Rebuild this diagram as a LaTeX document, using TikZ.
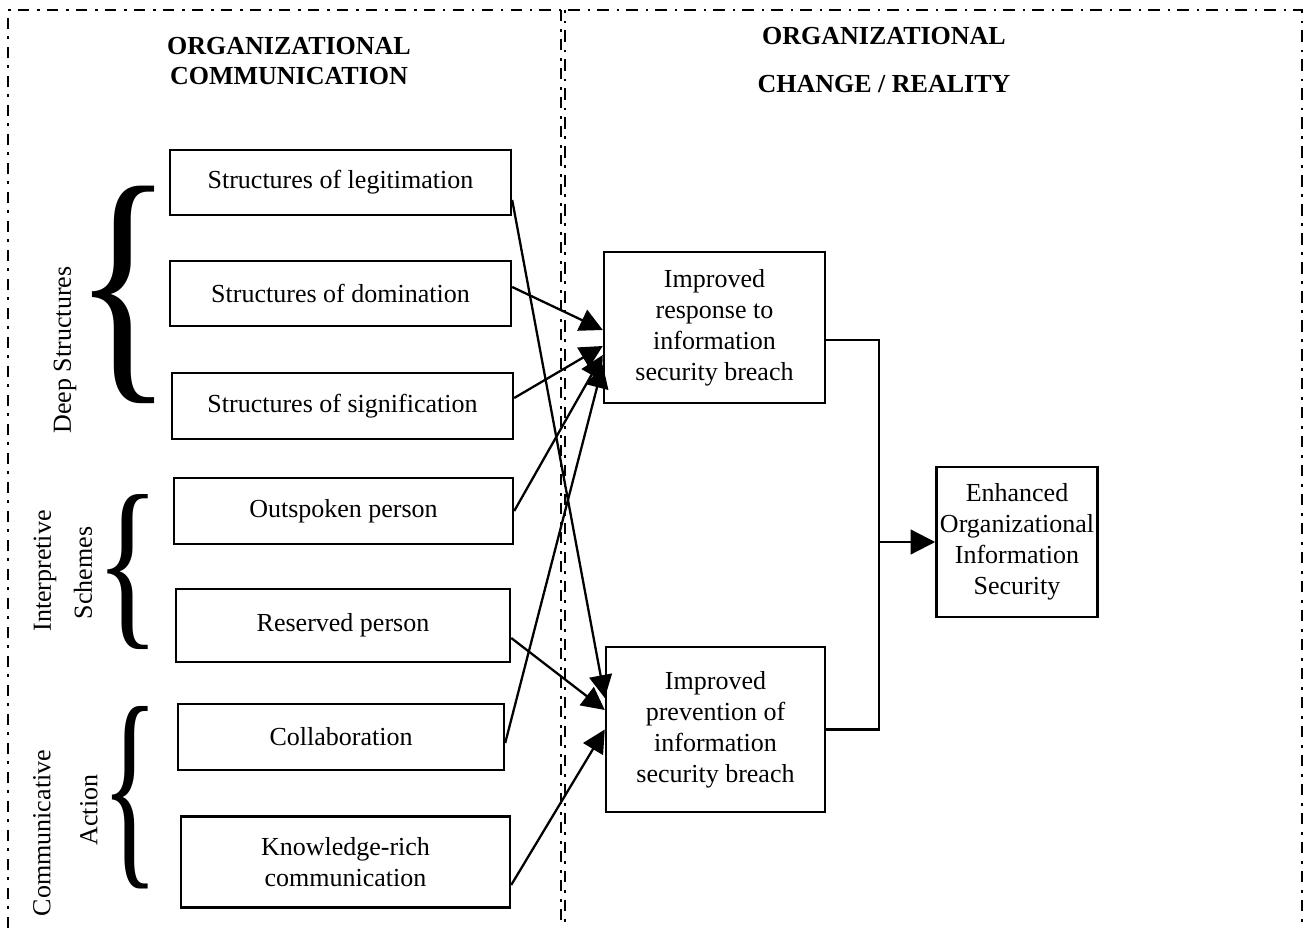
\documentclass[tikz,border=0pt]{standalone}
\usepackage{fontspec}
\setmainfont{Liberation Serif}
\usepackage{graphicx}
\usetikzlibrary{arrows.meta}

\begin{document}
\begin{tikzpicture}[
  x = 0.02cm,
  y = -0.02cm,
  every node/.style = {
    font = \fontsize{14.8}{17.6}\selectfont
  },
  box/.style = {
    draw,
    line width = 1.4pt,
    align = center,
    inner sep = 2pt
  },
  frame/.style = {
    line width = 1.4pt,
    dash pattern = on 6.5pt off 4.5pt on 1.5pt off 4pt
  },
  arr/.style = {
    line width = 1.3pt,
    -{Triangle[length = 13pt, width = 13pt]}
  },
  brace/.style = {
    inner sep = 0pt
  }
]
  \useasboundingbox (0, 0) rectangle (1304, 928);

  \draw[frame] (8, 928) -- (8, 10) -- (1302, 10) -- (1302, 928);
  \draw[frame] (561, 10) -- (561, 928);
  \draw[frame, dash phase = 5pt] (565, 10) -- (565, 928);

  \node[align = center, font = \fontsize{14.8}{17.6}\selectfont\bfseries] (hcomm) at (289, 61) {ORGANIZATIONAL\\COMMUNICATION};
  \node[align = center, font = \fontsize{14.8}{17.6}\selectfont\bfseries] (hchange) at (884, 60) {ORGANIZATIONAL\\[9.5pt]CHANGE / REALITY};

  \node[box, minimum width = 6.82cm, minimum height = 1.3cm] (legit) at (340.5, 182.5) {Structures of legitimation};
  \node[box, minimum width = 6.82cm, minimum height = 1.3cm] (domin) at (340.5, 293.5) {Structures of domination};
  \node[box, minimum width = 6.82cm, minimum height = 1.32cm] (signif) at (342.5, 406) {Structures of signification};
  \node[box, minimum width = 6.78cm, minimum height = 1.32cm] (outsp) at (343.5, 511) {Outspoken person};
  \node[box, minimum width = 6.68cm, minimum height = 1.46cm] (reserv) at (343, 625.5) {Reserved person};
  \node[box, minimum width = 6.52cm, minimum height = 1.32cm] (collab) at (341, 737) {Collaboration};
  \node[box, minimum width = 6.58cm, minimum height = 1.82cm] (know) at (345.5, 862) {Knowledge-rich\\communication};

  \node[brace] (bdeep) at (124, 294.5) {\resizebox*{2cm}{4.35cm}{\{}};
  \node[brace] (binterp) at (128, 572) {\resizebox*{1.3cm}{3.1cm}{\{}};
  \node[brace] (bcomm) at (130.5, 797.5) {\resizebox*{1.15cm}{3.65cm}{\{}};

  \node[rotate = 90] (ldeep) at (65, 350) {Deep Structures};
  \node[rotate = 90] (linterp) at (45, 571) {Interpretive};
  \node[rotate = 90] (lschemes) at (83, 573) {Schemes};
  \node[rotate = 90] (lcomm) at (42, 833) {Communicative};
  \node[rotate = 90] (laction) at (89, 810) {Action};

  \node[box, minimum width = 4.42cm, minimum height = 3.02cm] (resp) at (714.5, 327.5) {Improved\\response to\\information\\security breach};
  \node[box, minimum width = 4.38cm, minimum height = 3.3cm] (prev) at (715.5, 729.5) {Improved\\prevention of\\information\\security breach};
  \node[box, minimum width = 3.2cm, minimum height = 3cm] (enh) at (1017, 542) {Enhanced\\Organizational\\Information\\Security};

  \draw[arr] ([yshift = 0.13cm] domin.east) -- ([yshift = -0.05cm] resp.west);
  \draw[arr] ([yshift = 0.16cm] signif.east) -- ([yshift = -0.37cm] resp.west);
  \draw[arr] (outsp.east) -- ([yshift = -0.55cm] resp.west);
  \draw[arr] ([yshift = -0.12cm] collab.east) -- ([yshift = -0.75cm] resp.west);

  \draw[arr] ([yshift = -0.35cm] legit.east) -- ([yshift = 0.63cm] prev.west);
  \draw[arr] ([yshift = -0.25cm] reserv.east) -- ([yshift = 0.39cm] prev.west);
  \draw[arr] ([yshift = -0.46cm] know.east) -- (prev.west);

  \coordinate (join) at (879, 542);
  \draw[line width = 1.4pt] ([yshift = -0.25cm] resp.east) -| (join) |- (prev.east);
  \draw[arr, -{Triangle[length = 14pt, width = 14pt]}] (join) -- (enh.west);
\end{tikzpicture}
\end{document}
